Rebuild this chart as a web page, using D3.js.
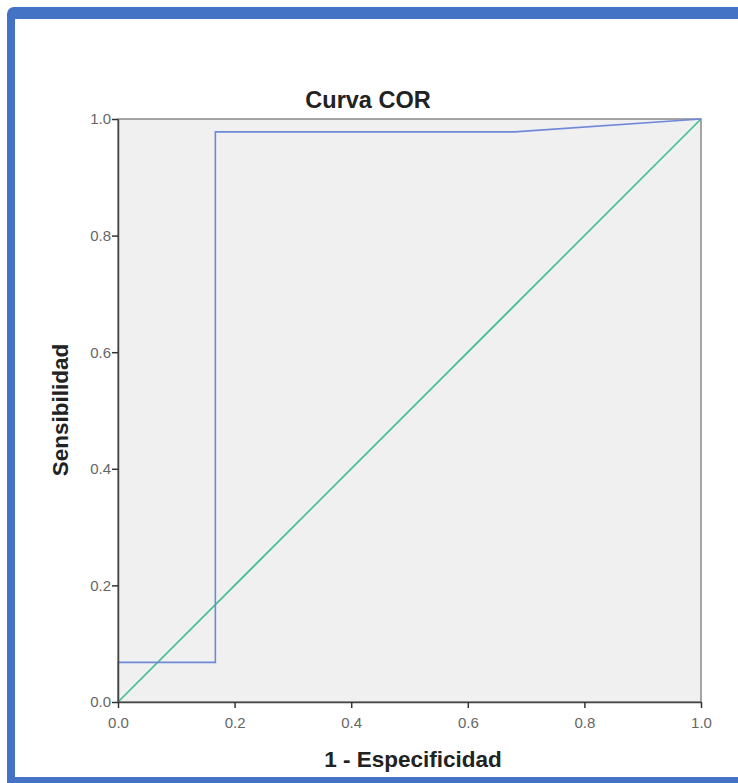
<!DOCTYPE html>
<html>
<head>
<meta charset="utf-8">
<script src="https://cdn.jsdelivr.net/npm/d3@7"></script>
<style>
  body { margin: 0; background: #fff; }
  svg { display: block; }
</style>
</head>
<body>
<div id="chart"></div>
<script>
// ROC curve points
const falsePositiveRate = [0, 0, 0.167, 0.167, 0.68, 1];
const sensitivity = [0, 0.068, 0.068, 0.978, 0.978, 1];
const referenceLine = [0, 1];
const tickValues = [0, 0.2, 0.4, 0.6, 0.8, 1.0];

const width = 738, height = 783;
const plot = { left: 118, right: 701, top: 119, bottom: 702 };

const svg = d3.select("#chart").append("svg")
    .attr("width", width)
    .attr("height", height);

// blue frame round the picture
svg.append("rect")
    .attr("x", 7).attr("y", 7)
    .attr("width", width + 20).attr("height", height + 20)
    .attr("rx", 7)
    .attr("fill", "#4472c4");
svg.append("rect")
    .attr("x", 15).attr("y", 19)
    .attr("width", width).attr("height", 777 - 19)
    .attr("fill", "#fff");

const x = d3.scaleLinear().domain([0, 1]).range([plot.left, plot.right]);
const y = d3.scaleLinear().domain([0, 1]).range([plot.bottom, plot.top]);

// plot background
svg.append("rect")
    .attr("x", plot.left).attr("y", plot.top)
    .attr("width", plot.right - plot.left)
    .attr("height", plot.bottom - plot.top)
    .attr("fill", "#f0f0f0")
    .attr("stroke", "#777")
    .attr("stroke-width", 1.3);

// diagonal reference
svg.append("line")
    .attr("x1", x(referenceLine[0])).attr("y1", y(referenceLine[0]))
    .attr("x2", x(referenceLine[1])).attr("y2", y(referenceLine[1]))
    .attr("stroke", "#3dbf8f")
    .attr("stroke-width", 1.6);

// ROC curve
const rocData = falsePositiveRate.map((v, i) => [v, sensitivity[i]]);
svg.append("path")
    .datum(rocData)
    .attr("fill", "none")
    .attr("stroke", "#7088d8")
    .attr("stroke-width", 1.6)
    .attr("d", d3.line().x(d => x(d[0])).y(d => y(d[1])));

// axes
const fmt = d3.format(".1f");
const xAxis = svg.append("g")
    .attr("transform", "translate(0," + plot.bottom + ")")
    .call(d3.axisBottom(x).tickValues(tickValues).tickFormat(fmt).tickSize(6).tickSizeOuter(0));
const yAxis = svg.append("g")
    .attr("transform", "translate(" + plot.left + ",0)")
    .call(d3.axisLeft(y).tickValues(tickValues).tickFormat(fmt).tickSize(6).tickSizeOuter(0));

[xAxis, yAxis].forEach(g => {
    g.select(".domain").attr("stroke", "#444").attr("stroke-width", 1.5);
    g.selectAll(".tick line").attr("stroke", "#333").attr("stroke-width", 1.5);
    g.selectAll(".tick text")
        .attr("font-family", "Liberation Sans, Arial, sans-serif")
        .attr("font-size", "15px")
        .attr("fill", "#666");
});
xAxis.selectAll(".tick text").attr("dy", "1.15em");
yAxis.selectAll(".tick text").attr("x", -7);

// title and axis titles
svg.append("text")
    .attr("x", 368).attr("y", 108)
    .attr("text-anchor", "middle")
    .attr("font-family", "Liberation Sans, Arial, sans-serif")
    .attr("font-weight", "bold")
    .attr("font-size", "23.5px")
    .attr("fill", "#222")
    .text("Curva COR");

svg.append("text")
    .attr("x", 413).attr("y", 767)
    .attr("text-anchor", "middle")
    .attr("font-family", "Liberation Sans, Arial, sans-serif")
    .attr("font-weight", "bold")
    .attr("font-size", "22.5px")
    .attr("fill", "#222")
    .text("1 - Especificidad");

svg.append("text")
    .attr("transform", "translate(68,410)rotate(-90)")
    .attr("text-anchor", "middle")
    .attr("font-family", "Liberation Sans, Arial, sans-serif")
    .attr("font-weight", "bold")
    .attr("font-size", "22.5px")
    .attr("fill", "#222")
    .text("Sensibilidad");
</script>
</body>
</html>
